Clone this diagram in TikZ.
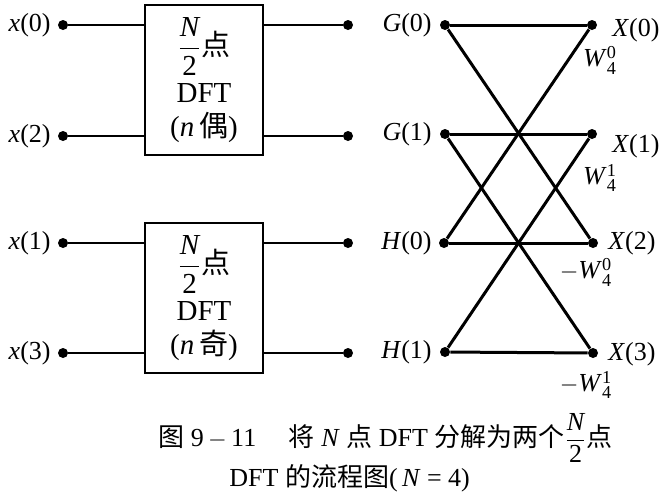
\documentclass[tikz,border=0pt]{standalone}
\usepackage{amsmath}
\usepackage{fontspec}
\setmainfont{Liberation Serif}
\newfontfamily\cjk{Noto Sans CJK SC}
\newcommand{\halfN}{$\dfrac{\textit{N}}{\text{2}}$}
\newcommand{\Wsym}[2]{\textit{W}$^{\text{#2}}_{\text{#1}}$}
\begin{document}
\begin{tikzpicture}[x=0.5pt,y=-0.5pt,
  dot/.style={circle,fill=black,inner sep=0pt,minimum size=5pt},
  thin line/.style={line width=0.9pt},
  fly/.style={line width=1.5pt},
  dftbox/.style={draw,line width=1.3pt,minimum width=59pt,minimum height=75pt,inner sep=0pt,font=\fontsize{14.5}{16}\selectfont,align=center},
  lab/.style={font=\fontsize{13}{15}\selectfont,inner sep=0pt},
  wlab/.style={font=\fontsize{13}{15}\selectfont,inner sep=0pt}]
\useasboundingbox (0,0) rectangle (664,500);
% boxes
\node[dftbox] (b1) at (204,80) {\halfN{\cjk 点}\\[3pt] DFT\\[1pt] (\textit{n}\,{\cjk 偶})};
\node[dftbox] (b2) at (204,298) {\halfN{\cjk 点}\\[3pt] DFT\\[1pt] (\textit{n}\,{\cjk 奇})};
% inputs
\node[dot] (x0) at (63,25) {};
\node[dot] (x2) at (63,136) {};
\node[dot] (x1) at (63,243) {};
\node[dot] (x3) at (63,353) {};
\node[lab,anchor=east] (lx0) at (51,25) {\textit{x}(0)};
\node[lab,anchor=east] (lx2) at (51,136) {\textit{x}(2)};
\node[lab,anchor=east] (lx1) at (51,243) {\textit{x}(1)};
\node[lab,anchor=east] (lx3) at (51,353) {\textit{x}(3)};
\draw[thin line] (x0) -- (x0 -| b1.west);
\draw[thin line] (x2) -- (x2 -| b1.west);
\draw[thin line] (x1) -- (x1 -| b2.west);
\draw[thin line] (x3) -- (x3 -| b2.west);
% box outputs
\node[dot] (o0) at (348,25) {};
\node[dot] (o1) at (348,136) {};
\node[dot] (o2) at (348,243) {};
\node[dot] (o3) at (348,353) {};
\draw[thin line] (o0 -| b1.east) -- (o0);
\draw[thin line] (o1 -| b1.east) -- (o1);
\draw[thin line] (o2 -| b2.east) -- (o2);
\draw[thin line] (o3 -| b2.east) -- (o3);
% butterfly nodes
\node[dot] (g0) at (445,25) {};
\node[dot] (g1) at (445,134) {};
\node[dot] (h0) at (444,243) {};
\node[dot] (h1) at (445,352) {};
\node[dot] (X0) at (592,25) {};
\node[dot] (X1) at (592,134) {};
\node[dot] (X2) at (593,243) {};
\node[dot] (X3) at (593,353) {};
\node[lab,anchor=east] (lg0) at (432,25) {\textit{G}(0)};
\node[lab,anchor=east] (lg1) at (432,134) {\textit{G}(1)};
\node[lab,anchor=east] (lh0) at (432,243) {\textit{H}(0)};
\node[lab,anchor=east] (lh1) at (432,352) {\textit{H}(1)};
\node[lab] (lX0) at (636,30) {\textit{X}(0)};
\node[lab] (lX1) at (636,146) {\textit{X}(1)};
\node[lab] (lX2) at (632,243) {\textit{X}(2)};
\node[lab] (lX3) at (632,354) {\textit{X}(3)};
\node[wlab] (w0) at (600,60) {\Wsym{4}{0}};
\node[wlab] (w1) at (600,178) {\Wsym{4}{1}};
\node[wlab] (w2) at (586,272) {$-$\Wsym{4}{0}};
\node[wlab] (w3) at (586,385) {$-$\Wsym{4}{1}};
\draw[fly] (g0) -- (X0);
\draw[fly] (g0) -- (X2);
\draw[fly] (g1) -- (X1);
\draw[fly] (g1) -- (X3);
\draw[fly] (h0) -- (X2);
\draw[fly] (h0) -- (X0);
\draw[fly] (h1) -- (X3);
\draw[fly] (h1) -- (X1);
% caption
\node[lab,anchor=west] (cap1) at (158,438) {{\cjk 图} 9\,$-$\,11\quad\ {\cjk 将} \textit{N} {\cjk 点} DFT {\cjk 分解为两个}\halfN{\cjk 点}};
\node[lab,anchor=west] (cap2) at (229,478) {DFT {\cjk 的流程图}(\,\textit{N} = 4)};
\end{tikzpicture}
\end{document}
